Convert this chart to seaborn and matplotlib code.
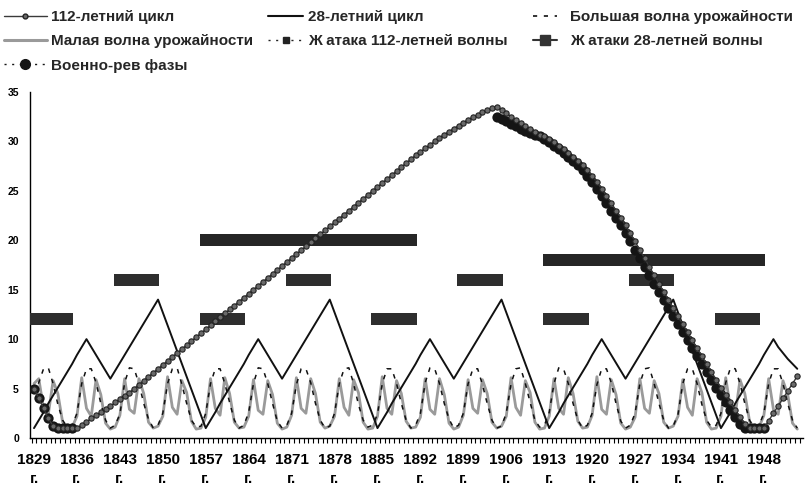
import numpy as np
import matplotlib
matplotlib.use("Agg")
import matplotlib.pyplot as plt
from matplotlib.lines import Line2D
import seaborn as sns

# ---------------- data (one value per category, 9 categories per 7 years) ----------------
year_labels = ["1829", "1836", "1843", "1850", "1857", "1864", "1871", "1878", "1885",
               "1892", "1899", "1906", "1913", "1920", "1927", "1934", "1941", "1948"]

cycle112 = [
    5.0, 4.0, 3.0, 2.0, 1.2, 1.0, 1.0, 1.0, 1.0,
    1.0, 1.3, 1.6, 2.0, 2.3, 2.6, 2.9, 3.2, 3.6,
    3.9, 4.2, 4.6, 5.0, 5.4, 5.8, 6.2, 6.6, 7.0,
    7.4, 7.8, 8.2, 8.6, 9.0, 9.4, 9.8, 10.2, 10.6,
    11.0, 11.4, 11.8, 12.2, 12.6, 13.0, 13.4, 13.8, 14.2,
    14.6, 15.0, 15.4, 15.8, 16.2, 16.6, 17.0, 17.4, 17.8,
    18.2, 18.6, 19.0, 19.4, 19.8, 20.2, 20.6, 21.0, 21.4,
    21.8, 22.2, 22.6, 23.0, 23.4, 23.8, 24.2, 24.6, 25.0,
    25.4, 25.8, 26.2, 26.6, 27.0, 27.4, 27.8, 28.2, 28.6,
    28.95, 29.3, 29.65, 30.0, 30.35, 30.7, 31.0, 31.3, 31.6,
    31.9, 32.2, 32.45, 32.7, 32.95, 33.15, 33.35, 33.5, 33.2,
    32.9, 32.5, 32.2, 31.9, 31.6, 31.3, 31.0, 30.7, 30.5,
    30.2, 29.9, 29.5, 29.2, 28.8, 28.4, 28.0, 27.6, 27.1,
    26.5, 25.9, 25.2, 24.5, 23.8, 23.0, 22.3, 21.5, 20.7,
    19.9, 19.0, 18.2, 17.3, 16.5, 15.6, 14.8, 14.0, 13.1,
    12.3, 11.5, 10.7, 9.9, 9.1, 8.3, 7.5, 6.7, 5.9,
    5.1, 4.3, 3.6, 2.8, 2.1, 1.4, 1.0, 1.0, 1.0,
    1.0, 1.75, 2.5, 3.25, 4.0, 4.75, 5.5, 6.25,
]

cycle28 = [
    1.0, 1.8, 2.6, 3.5, 4.3, 5.1, 5.9, 6.7, 7.5, 8.4, 9.2, 10.0, 9.2, 8.4, 7.6, 6.8, 6.0, 6.8,
    7.6, 8.4, 9.2, 10.0, 10.8, 11.6, 12.4, 13.2, 14.0, 12.7, 11.4, 10.1, 8.8, 7.5, 6.2, 4.9, 3.6, 2.3,
    1.0, 1.8, 2.6, 3.5, 4.3, 5.1, 5.9, 6.7, 7.5, 8.4, 9.2, 10.0, 9.2, 8.4, 7.6, 6.8, 6.0, 6.8,
    7.6, 8.4, 9.2, 10.0, 10.8, 11.6, 12.4, 13.2, 14.0, 12.7, 11.4, 10.1, 8.8, 7.5, 6.2, 4.9, 3.6, 2.3,
    1.0, 1.8, 2.6, 3.5, 4.3, 5.1, 5.9, 6.7, 7.5, 8.4, 9.2, 10.0, 9.2, 8.4, 7.6, 6.8, 6.0, 6.8,
    7.6, 8.4, 9.2, 10.0, 10.8, 11.6, 12.4, 13.2, 14.0, 12.7, 11.4, 10.1, 8.8, 7.5, 6.2, 4.9, 3.6, 2.3,
    1.0, 1.8, 2.6, 3.5, 4.3, 5.1, 5.9, 6.7, 7.5, 8.4, 9.2, 10.0, 9.2, 8.4, 7.6, 6.8, 6.0, 6.8,
    7.6, 8.4, 9.2, 10.0, 10.8, 11.6, 12.4, 13.2, 14.0, 12.7, 11.4, 10.1, 8.8, 7.5, 6.2, 4.9, 3.6, 2.3,
    1.0, 1.8, 2.6, 3.5, 4.3, 5.1, 5.9, 6.7, 7.5, 8.4, 9.2, 10.0, 9.2, 8.6, 8.0, 7.5, 7.0,
]

big_wave = [
    4.5, 5.6, 7.0, 7.1, 5.5, 3.4, 1.8, 1.1, 1.3,
    2.5, 5.5, 7.0, 7.0, 5.6, 3.5, 1.8, 1.0, 1.3,
    2.4, 5.6, 7.1, 7.0, 5.5, 3.5, 1.9, 1.0, 1.3,
    2.5, 5.5, 7.0, 7.1, 5.4, 3.5, 1.8, 1.1, 1.2,
    2.5, 5.5, 7.0, 7.0, 5.5, 3.6, 1.8, 1.0, 1.3,
    2.6, 5.5, 7.1, 7.0, 5.5, 3.5, 1.7, 1.0, 1.3,
    2.5, 5.4, 7.0, 7.0, 5.6, 3.5, 1.8, 1.0, 1.2,
    2.5, 5.5, 7.0, 7.1, 5.5, 3.4, 1.8, 1.1, 1.3,
    2.4, 5.5, 7.0, 7.0, 5.5, 3.5, 1.8, 1.0, 1.3,
    2.5, 5.6, 7.1, 7.0, 5.5, 3.5, 1.9, 1.0, 1.3,
    2.5, 5.5, 7.0, 7.0, 5.4, 3.5, 1.8, 1.0, 1.2,
    2.5, 5.5, 7.0, 7.1, 5.5, 3.6, 1.8, 1.1, 1.3,
    2.6, 5.5, 7.1, 7.0, 5.5, 3.5, 1.8, 1.0, 1.3,
    2.5, 5.4, 7.0, 7.0, 5.6, 3.5, 1.7, 1.0, 1.3,
    2.5, 5.5, 7.0, 7.1, 5.5, 3.5, 1.8, 1.0, 1.2,
    2.4, 5.5, 7.0, 7.0, 5.5, 3.4, 1.8, 1.1, 1.3,
    2.5, 5.6, 7.1, 7.0, 5.5, 3.5, 1.8, 1.0, 1.3,
    2.5, 5.5, 7.0, 7.0, 5.5, 3.5, 1.8, 1.0,
]

small_wave = [
    5.5, 6.0, 3.0, 2.4, 5.8, 4.5, 1.6, 1.0, 1.1,
    2.2, 6.1, 3.0, 2.2, 5.9, 4.4, 1.5, 0.9, 1.1,
    2.3, 6.0, 2.9, 2.5, 6.0, 4.5, 1.6, 1.0, 1.2,
    2.2, 6.2, 3.1, 2.4, 5.8, 4.6, 1.7, 0.9, 1.0,
    2.1, 6.0, 3.0, 2.3, 6.1, 4.5, 1.6, 1.0, 1.1,
    2.2, 5.9, 2.8, 2.4, 5.8, 4.4, 1.5, 0.9, 1.1,
    2.3, 6.1, 3.0, 2.5, 6.0, 4.5, 1.6, 1.0, 1.2,
    2.2, 6.0, 3.1, 2.3, 5.9, 4.6, 1.6, 0.9, 1.0,
    2.2, 6.2, 3.0, 2.4, 5.8, 4.5, 1.7, 1.0, 1.1,
    2.1, 6.0, 2.9, 2.4, 6.0, 4.4, 1.5, 0.9, 1.1,
    2.3, 5.9, 3.0, 2.5, 5.9, 4.5, 1.6, 1.0, 1.2,
    2.2, 6.1, 3.1, 2.3, 5.8, 4.6, 1.6, 0.9, 1.0,
    2.2, 6.0, 3.0, 2.4, 6.1, 4.5, 1.7, 1.0, 1.1,
    2.3, 6.2, 2.9, 2.4, 5.9, 4.4, 1.5, 0.9, 1.1,
    2.1, 6.0, 3.0, 2.5, 5.8, 4.5, 1.6, 1.0, 1.2,
    2.2, 5.9, 3.1, 2.3, 6.0, 4.6, 1.6, 0.9, 1.0,
    2.2, 6.1, 3.0, 2.4, 5.9, 4.5, 1.7, 1.0, 1.1,
    2.3, 6.0, 2.9, 2.4, 5.8, 4.4, 1.5, 0.9,
]

# horizontal "attack" bars: first / last category and level
attack112_start = [36, 108]
attack112_end = [79, 152]
attack112_value = [20, 18]

attack28_start = [0, 18, 36, 54, 72, 90, 108, 126, 144]
attack28_end = [7, 25, 43, 61, 79, 97, 115, 133, 151]
attack28_value = [12, 16, 12, 16, 12, 16, 12, 16, 12]

# military-revolutionary phases (segments)
military_start = [0, 97]
military_values = [
    [5.0, 4.0, 3.0, 2.0, 1.2, 1.0, 1.0, 1.0, 1.0],
    [32.5, 32.3, 32.1, 31.8, 31.6, 31.3, 31.1, 30.9, 30.7, 30.5, 30.2, 29.9, 29.5,
     29.2, 28.8, 28.4, 28.0, 27.6, 27.1, 26.5, 25.9, 25.2, 24.5, 23.8, 23.0, 22.3,
     21.5, 20.7, 19.9, 19.0, 18.2, 17.3, 16.5, 15.6, 14.8, 14.0, 13.1, 12.3, 11.5,
     10.7, 9.9, 9.1, 8.3, 7.5, 6.7, 5.9, 5.1, 4.3, 3.6, 2.8, 2.1, 1.4, 1.0, 1.0,
     1.0, 1.0, 1.0],
]

legend_labels = ["112-летний цикл", "28-летний цикл", "Большая волна урожайности",
                 "Малая волна урожайности", "Ж атака 112-летней волны",
                 "Ж атаки 28-летней волны", "Военно-рев фазы"]

# ---------------- drawing ----------------
sns.set_theme(style="white")
plt.rcParams["font.family"] = ["Liberation Sans", "DejaVu Sans"]
plt.rcParams["font.weight"] = "bold"

W, H = 805, 491
fig = plt.figure(figsize=(W / 100, H / 100), dpi=100)
fig.patch.set_facecolor("white")
ax = fig.add_axes([30 / W, 53 / H, 773 / W, 346 / H])
ax.set_facecolor("white")

idx = np.arange(len(cycle112))

sns.lineplot(x=idx, y=small_wave, ax=ax, color="#9a9a9a", lw=2.0, zorder=2)
sns.lineplot(x=idx, y=big_wave, ax=ax, color="#111111", lw=1.1,
             linestyle=(0, (3, 4)), zorder=3)
sns.lineplot(x=idx, y=cycle28, ax=ax, color="#111111", lw=1.4, zorder=4)

for s, e, v in zip(attack28_start, attack28_end, attack28_value):
    xs = np.arange(s, e + 1)
    sns.scatterplot(x=xs, y=np.full(len(xs), v), ax=ax, marker="s", s=8.0 ** 2,
                    color="#2e2e2e", linewidth=0, zorder=5)
for s, e, v in zip(attack112_start, attack112_end, attack112_value):
    xs = np.arange(s, e + 1)
    sns.scatterplot(x=xs, y=np.full(len(xs), v), ax=ax, marker="s", s=8.0 ** 2,
                    color="#262626", linewidth=0, zorder=5)

for s, vals in zip(military_start, military_values):
    xs = np.arange(s, s + len(vals))
    sns.scatterplot(x=xs, y=vals, ax=ax, marker="o", s=7.4 ** 2,
                    color="#151515", linewidth=0, zorder=6)

ax.plot(idx, cycle112, color="#3a3a3a", lw=1.0, marker="o", ms=3.8,
        mfc="#6a6a6a", mec="#222222", mew=0.8, zorder=7)

ax.set_xlim(-0.84, 161.2)
ax.set_ylim(0, 35)

for sp in ["top", "right"]:
    ax.spines[sp].set_visible(False)
for sp in ["left", "bottom"]:
    ax.spines[sp].set_color("black")
    ax.spines[sp].set_linewidth(1.0)

ax.set_yticks(np.arange(0, 36, 5))
ax.set_yticklabels([str(v) for v in range(0, 36, 5)], fontsize=7.5, fontweight="bold")
ax.tick_params(axis="y", direction="out", length=3, width=0.8, pad=5, colors="black")

pos = np.arange(len(year_labels)) * 9
ax.set_xticks(pos)
ax.set_xticklabels([f"{y}\nг." for y in year_labels], fontsize=11, fontweight="bold",
                   linespacing=1.4)
ax.set_xticks(np.arange(-0.5, 161, 1.0), minor=True)
ax.tick_params(axis="x", which="major", length=0, pad=11, colors="black")
ax.tick_params(axis="x", which="minor", direction="out", length=3.5, width=0.8,
               bottom=True, colors="black")
ax.set_xlabel("")
ax.set_ylabel("")

# ---------------- legend (three columns, row-major as in the original) ----------------
h112 = Line2D([], [], color="#3a3a3a", lw=1.0, marker="o", ms=3.5, mfc="#6a6a6a", mec="#222")
h28 = Line2D([], [], color="#111", lw=1.5)
hbig = Line2D([], [], color="#111", lw=1.2, linestyle=(0, (2.5, 4)))
hsmall = Line2D([], [], color="#9a9a9a", lw=2.2)
ha112 = Line2D([], [], color="#222", lw=1.0, linestyle=(0, (1.5, 4)), marker="s", ms=5)
ha28 = Line2D([], [], color="#333", lw=1.5, marker="s", ms=7)
hmil = Line2D([], [], color="#151515", lw=1.0, linestyle=(0, (1.5, 4)), marker="o", ms=7)
handles = [h112, h28, hbig, hsmall, ha112, ha28, hmil]

cols = [[0, 3, 6], [1, 4], [2, 5]]
col_x = [4, 268, 533]
col_hl = [2.8, 2.3, 1.6]
col_pad = [0.25, 0.35, 0.8]
for c, xs0, hl, tp in zip(cols, col_x, col_hl, col_pad):
    fig.legend([handles[k] for k in c], [legend_labels[k] for k in c],
               loc="upper left", bbox_to_anchor=(xs0 / W, 1 - 10 / H),
               frameon=False, prop={"weight": "bold", "size": 11},
               handlelength=hl, handletextpad=tp, labelspacing=0.68,
               borderpad=0, borderaxespad=0)

fig.savefig("out.png", dpi=100, facecolor="white")
